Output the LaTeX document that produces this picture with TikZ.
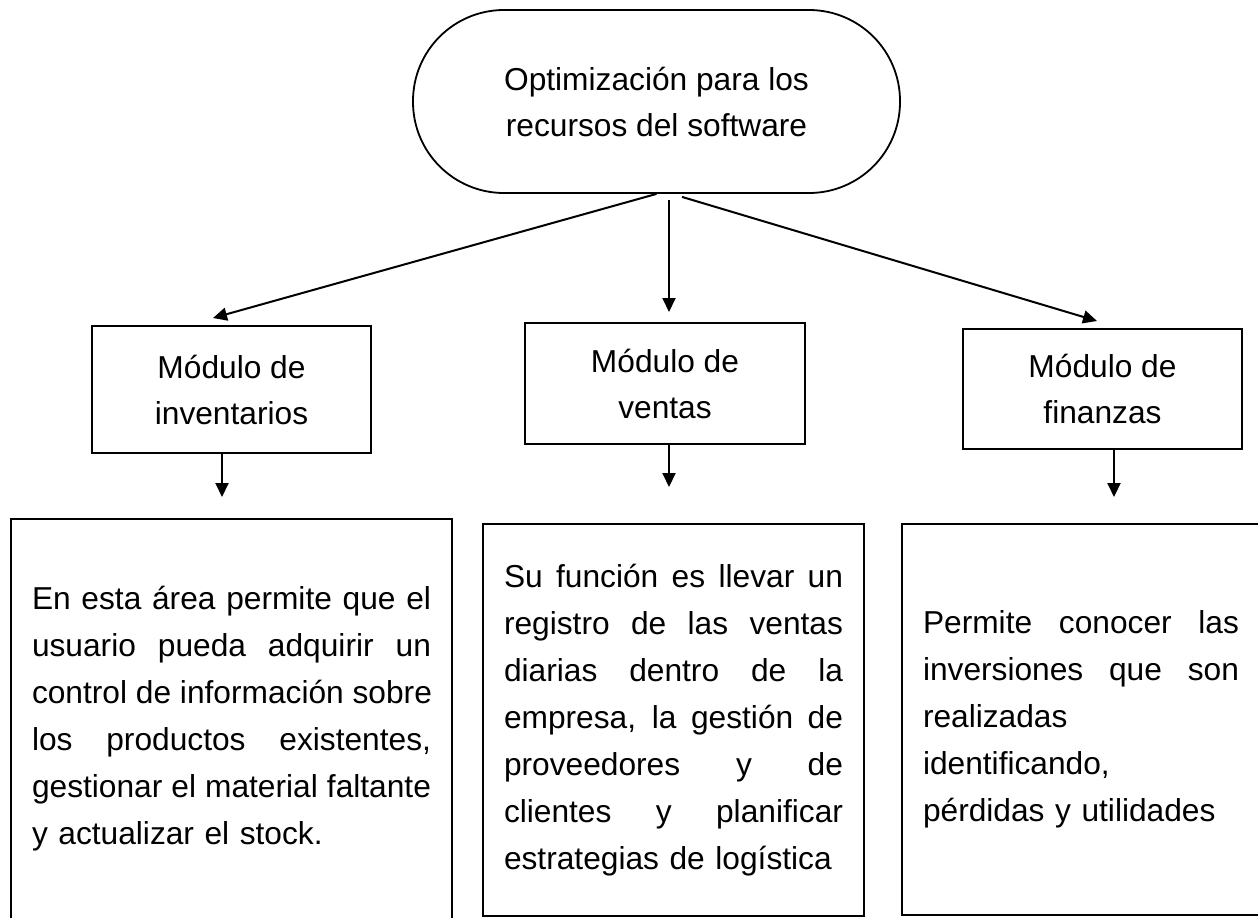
\documentclass[tikz,border=0pt]{standalone}
\usepackage{fontspec}
\setmainfont{Liberation Sans}
\usetikzlibrary{arrows.meta}
\newcommand\jl[2]{\leavevmode\hbox to #1{\spaceskip=0.2778em plus 20em\relax #2}}
\begin{document}
\begin{tikzpicture}[x=1pt,y=-1pt,
  every node/.style={font=\fontsize{31.7}{46}\selectfont},
  box/.style={draw, rectangle, inner sep=0pt, line width=2pt},
  bigbox/.style={box, font=\fontsize{31.7}{47}\selectfont, align=left},
  arr/.style={-{Triangle[length=14pt,width=13pt]}, line width=2pt},
]
\useasboundingbox (0,0) rectangle (1258,918);

\node[draw, rounded corners=91pt, minimum width=487pt, minimum height=183pt,
      align=center, line width=1.8pt] (top) at (656.5,101.5)
      {Optimización para los\\recursos del software};

\node[box, minimum width=279pt, minimum height=127pt, align=center] (m1) at (231.5,389.5) {Módulo de\\inventarios};
\node[box, minimum width=280pt, minimum height=121pt, align=center] (m2) at (665,383.5) {Módulo de\\ventas};
\node[box, minimum width=279pt, minimum height=120pt, align=center] (m3) at (1102.5,389) {Módulo de\\finanzas};

\node[bigbox, minimum width=441pt, minimum height=400pt, text width=399pt] (A) at (231.5,719) {%
\jl{399pt}{En esta área permite que el}\\
\jl{399pt}{usuario pueda adquirir un}\\
\jl{399pt}{control de información sobre}\\
\jl{399pt}{los productos existentes,}\\
\jl{399pt}{gestionar el material faltante}\\
y actualizar el stock.};

\node[bigbox, minimum width=381pt, minimum height=392pt, text width=339pt] (B) at (673.5,720) {%
\jl{339pt}{Su función es llevar un}\\
\jl{339pt}{registro de las ventas}\\
\jl{339pt}{diarias dentro de la}\\
\jl{339pt}{empresa, la gestión de}\\
\jl{339pt}{proveedores y de}\\
\jl{339pt}{clientes y planificar}\\
estrategias de logística};

\node[bigbox, minimum width=358pt, minimum height=391pt, text width=316pt] (C) at (1081,719.5) {%
\jl{316pt}{Permite conocer las}\\
\jl{316pt}{inversiones que son}\\
realizadas\\
identificando,\\
pérdidas y utilidades};

\coordinate (a1) at (213,318);
\coordinate (a2) at (669,312);
\coordinate (a3) at (1097,321);
\draw[arr] (top.south) -- (a1);
\draw[arr] ([shift={(12.5,6)}]top.south) -- (a2);
\draw[arr] ([shift={(25.5,3)}]top.south) -- (a3);

\coordinate (t1) at (222,497);
\coordinate (t2) at (669,487);
\coordinate (t3) at (1114,497);
\draw[arr] (m1.south -| t1) -- (t1);
\draw[arr] (m2.south -| t2) -- (t2);
\draw[arr] (m3.south -| t3) -- (t3);
\end{tikzpicture}
\end{document}
